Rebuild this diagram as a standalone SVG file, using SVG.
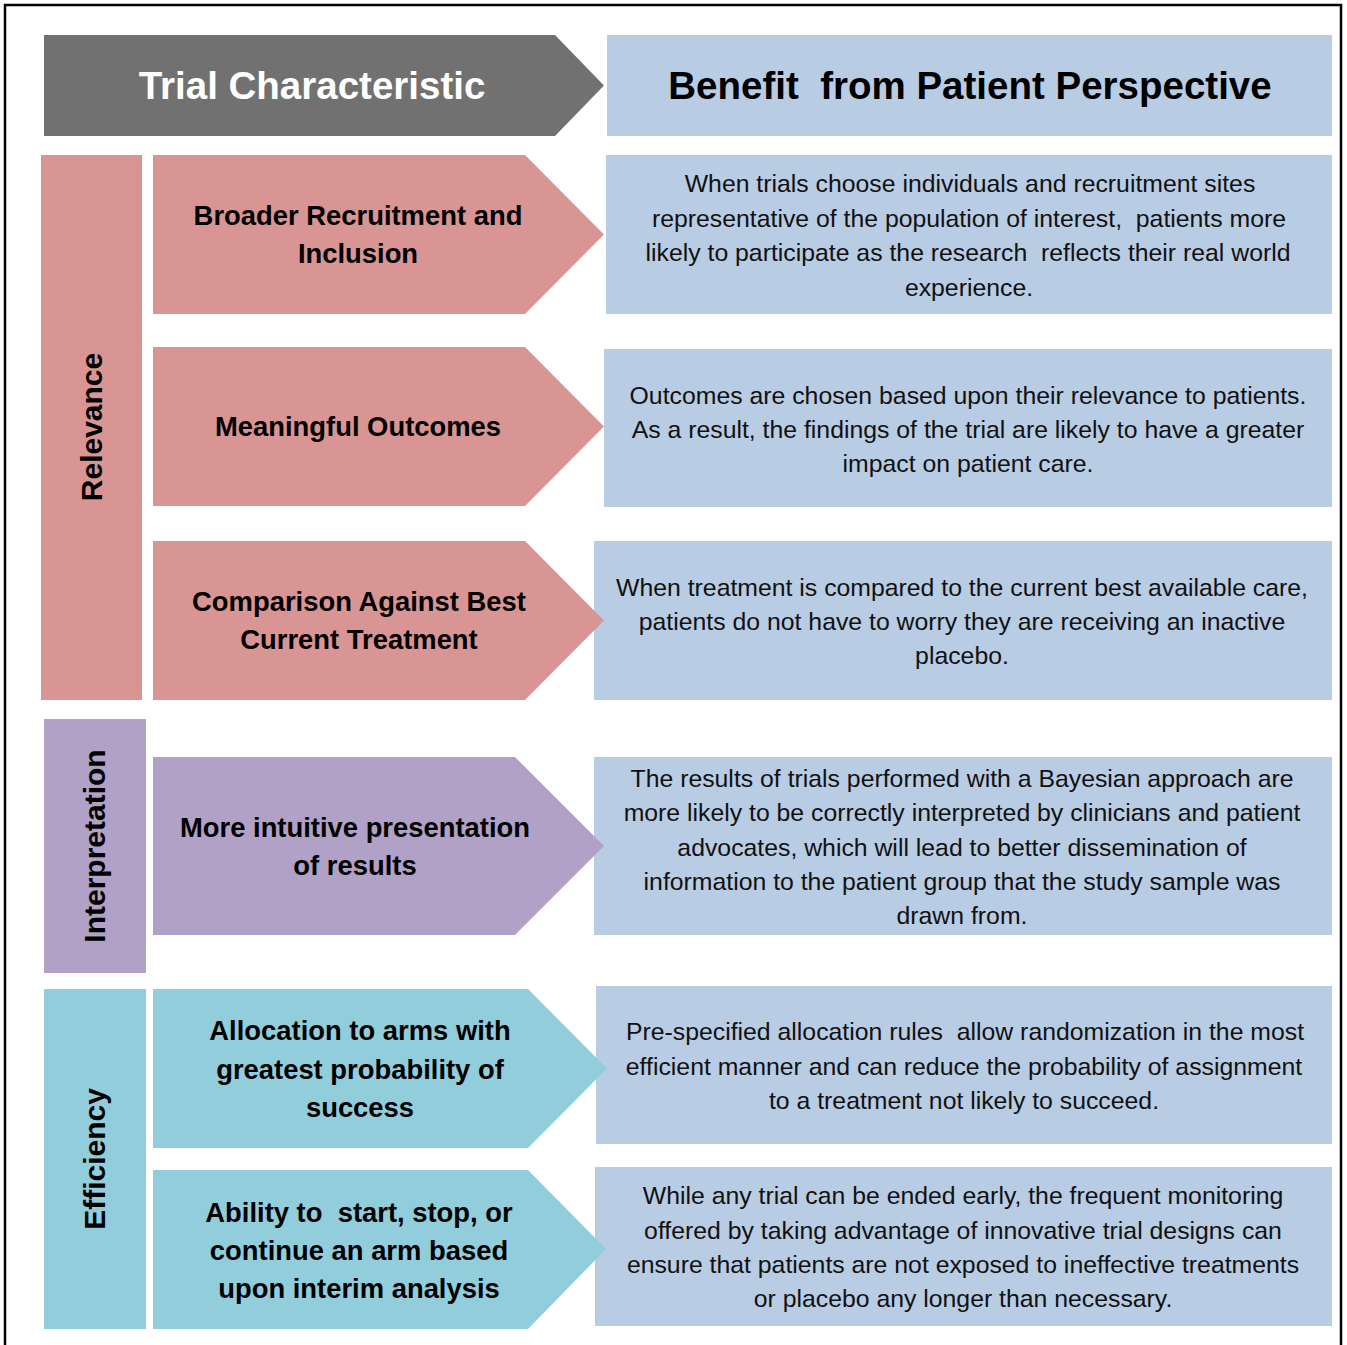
<svg xmlns="http://www.w3.org/2000/svg" width="1347" height="1345" viewBox="0 0 1347 1345">
  <style>
    .hd { font-family: "Liberation Sans", Arial, sans-serif; font-weight: bold; font-size: 38.5px; text-anchor: middle; }
    .lbl { font-family: "Liberation Sans", Arial, sans-serif; font-weight: bold; font-size: 27.4px; text-anchor: middle; fill: #000; }
    .vt { font-family: "Liberation Sans", Arial, sans-serif; font-weight: bold; font-size: 30px; text-anchor: middle; fill: #000; }
    .body { font-family: "Liberation Sans", Arial, sans-serif; font-size: 24.8px; text-anchor: middle; fill: #111; }
    .grey { fill: #717171; }
    .pink { fill: #d99594; }
    .purple { fill: #b2a1c7; }
    .cyan { fill: #92cddc; }
    .blue { fill: #b8cce4; }
  </style>

  <rect width="1347" height="1345" fill="#fff"/>
  <!-- outer frame (open at the bottom) -->
  <path d="M5,1345 V5 H1341 V1345" fill="none" stroke="#000" stroke-width="2.5"/>

  <!-- header row -->
  <g id="header-benefit">
    <rect class="blue" x="607" y="35" width="725" height="101"/>
    <text class="hd" x="970" y="99" fill="#000" xml:space="preserve">Benefit  from Patient Perspective</text>
  </g>
  <g id="header-characteristic">
    <polygon class="grey" points="44,35 555,35 604,85.5 555,136 44,136"/>
    <text class="hd" x="312" y="99" fill="#fff">Trial Characteristic</text>
  </g>

  <!-- category bars -->
  <g id="cat-relevance">
    <rect class="pink" x="41" y="155" width="101" height="545"/>
    <text class="vt" transform="translate(102,427) rotate(-90)">Relevance</text>
  </g>
  <g id="cat-interpretation">
    <rect class="purple" x="44" y="719" width="102" height="254"/>
    <text class="vt" transform="translate(105,846) rotate(-90)">Interpretation</text>
  </g>
  <g id="cat-efficiency">
    <rect class="cyan" x="44" y="989" width="102" height="340"/>
    <text class="vt" transform="translate(105,1159) rotate(-90)">Efficiency</text>
  </g>

  <!-- benefit boxes (drawn first so the arrow tips sit on top) -->
  <g id="benefit-recruitment">
    <rect class="blue" x="606" y="155" width="726" height="159"/>
    <text class="body" x="970" y="192">When trials choose individuals and recruitment sites</text>
    <text class="body" x="969" y="227" xml:space="preserve">representative of the population of interest,  patients more</text>
    <text class="body" x="968" y="261" xml:space="preserve">likely to participate as the research  reflects their real world</text>
    <text class="body" x="969" y="296">experience.</text>
  </g>
  <g id="benefit-outcomes">
    <rect class="blue" x="604" y="349" width="728" height="158"/>
    <text class="body" x="968" y="404">Outcomes are chosen based upon their relevance to patients.</text>
    <text class="body" x="968" y="438">As a result, the findings of the trial are likely to have a greater</text>
    <text class="body" x="968" y="472">impact on patient care.</text>
  </g>
  <g id="benefit-comparison">
    <rect class="blue" x="594" y="541" width="738" height="159"/>
    <text class="body" x="962" y="596">When treatment is compared to the current best available care,</text>
    <text class="body" x="962" y="630">patients do not have to worry they are receiving an inactive</text>
    <text class="body" x="962" y="664">placebo.</text>
  </g>
  <g id="benefit-presentation">
    <rect class="blue" x="594" y="757" width="738" height="178"/>
    <text class="body" x="962" y="787">The results of trials performed with a Bayesian approach are</text>
    <text class="body" x="962" y="821">more likely to be correctly interpreted by clinicians and patient</text>
    <text class="body" x="962" y="856">advocates, which will lead to better dissemination of</text>
    <text class="body" x="962" y="890">information to the patient group that the study sample was</text>
    <text class="body" x="962" y="924">drawn from.</text>
  </g>
  <g id="benefit-allocation">
    <rect class="blue" x="596" y="986" width="736" height="158"/>
    <text class="body" x="965" y="1040" xml:space="preserve">Pre-specified allocation rules  allow randomization in the most</text>
    <text class="body" x="964" y="1075">efficient manner and can reduce the probability of assignment</text>
    <text class="body" x="964" y="1109">to a treatment not likely to succeed.</text>
  </g>
  <g id="benefit-adaptive">
    <rect class="blue" x="595" y="1167" width="737" height="159"/>
    <text class="body" x="963" y="1204">While any trial can be ended early, the frequent monitoring</text>
    <text class="body" x="963" y="1239">offered by taking advantage of innovative trial designs can</text>
    <text class="body" x="963" y="1273">ensure that patients are not exposed to ineffective treatments</text>
    <text class="body" x="963" y="1307">or placebo any longer than necessary.</text>
  </g>

  <!-- characteristic arrows -->
  <g id="char-recruitment">
    <polygon class="pink" points="153,155 525,155 604,234.5 525,314 153,314"/>
    <text class="lbl" x="358" y="225">Broader Recruitment and</text>
    <text class="lbl" x="358" y="263">Inclusion</text>
  </g>
  <g id="char-outcomes">
    <polygon class="pink" points="153,347 525,347 604,426.5 525,506 153,506"/>
    <text class="lbl" x="358" y="436">Meaningful Outcomes</text>
  </g>
  <g id="char-comparison">
    <polygon class="pink" points="153,541 525,541 604,620.5 525,700 153,700"/>
    <text class="lbl" x="359" y="611">Comparison Against Best</text>
    <text class="lbl" x="359" y="649">Current Treatment</text>
  </g>
  <g id="char-presentation">
    <polygon class="purple" points="153,757 515,757 604,846 515,935 153,935"/>
    <text class="lbl" x="355" y="837">More intuitive presentation</text>
    <text class="lbl" x="355" y="875">of results</text>
  </g>
  <g id="char-allocation">
    <polygon class="cyan" points="153,989 528,989 607,1068.5 528,1148 153,1148"/>
    <text class="lbl" x="360" y="1040">Allocation to arms with</text>
    <text class="lbl" x="360" y="1079">greatest probability of</text>
    <text class="lbl" x="360" y="1117">success</text>
  </g>
  <g id="char-adaptive">
    <polygon class="cyan" points="153,1170 528,1170 606,1249 528,1329 153,1329"/>
    <text class="lbl" x="359" y="1222" xml:space="preserve">Ability to  start, stop, or</text>
    <text class="lbl" x="359" y="1260">continue an arm based</text>
    <text class="lbl" x="359" y="1298">upon interim analysis</text>
  </g>
</svg>
